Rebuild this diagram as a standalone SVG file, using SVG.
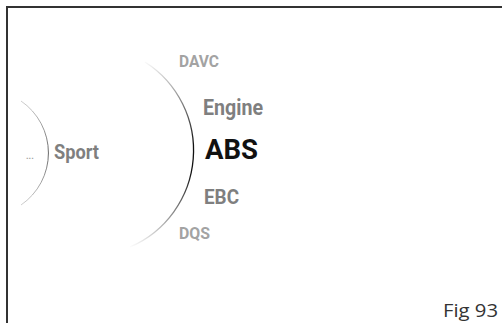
<svg xmlns="http://www.w3.org/2000/svg" width="502" height="323" viewBox="0 0 502 323">
<style>
.b{font-family:Roboto,"Liberation Sans",sans-serif;font-weight:bold}
.l{fill:#a3a3a3}
.m{fill:#7f7f7f}
.d{fill:#111}
</style>
<defs>
<linearGradient id="g1" gradientUnits="userSpaceOnUse" x1="0" y1="60" x2="0" y2="248">
<stop offset="0" stop-color="#000" stop-opacity="0"/>
<stop offset="0.45" stop-color="#111"/>
<stop offset="0.6" stop-color="#111"/>
<stop offset="1" stop-color="#000" stop-opacity="0"/>
</linearGradient>
<linearGradient id="g2" gradientUnits="userSpaceOnUse" x1="0" y1="100" x2="0" y2="206">
<stop offset="0" stop-color="#666" stop-opacity="0.3"/>
<stop offset="0.5" stop-color="#666"/>
<stop offset="1" stop-color="#666" stop-opacity="0.3"/>
</linearGradient>
</defs>
<rect width="502" height="323" fill="#fff"/>
<path d="M7 323 V7 H502" fill="none" stroke="#333" stroke-width="2"/>
<g id="connectors">
<path id="arc-main" d="M145 62 A105 105 0 0 1 130 247" fill="none" stroke="url(#g1)" stroke-width="1.3"/>
<path id="arc-left" d="M21 101 A63 63 0 0 1 21 205" fill="none" stroke="url(#g2)" stroke-width="1"/>
</g>
<g id="node-davc"><text class="b l" x="179" y="67" font-size="17" textLength="40" lengthAdjust="spacingAndGlyphs">DAVC</text></g>
<g id="node-engine"><text class="b m" x="203" y="115" font-size="22" textLength="60" lengthAdjust="spacingAndGlyphs">Engine</text></g>
<g id="node-abs"><text class="b d" x="205" y="159" font-size="27" textLength="53" lengthAdjust="spacingAndGlyphs">ABS</text></g>
<g id="node-ebc"><text class="b m" x="204" y="204" font-size="21" textLength="35" lengthAdjust="spacingAndGlyphs">EBC</text></g>
<g id="node-dqs"><text class="b l" x="179" y="239" font-size="17" textLength="31" lengthAdjust="spacingAndGlyphs">DQS</text></g>
<g id="node-sport"><text class="b m" x="54" y="159" font-size="21" textLength="45" lengthAdjust="spacingAndGlyphs">Sport</text></g>
<g id="node-ellipsis"><text class="b l" x="26" y="159" font-size="9">...</text></g>
<g id="caption"><text x="443" y="317" font-family="'Open Sans',Roboto,sans-serif" font-size="18" fill="#333" textLength="55" lengthAdjust="spacingAndGlyphs">Fig 93</text></g>
</svg>
